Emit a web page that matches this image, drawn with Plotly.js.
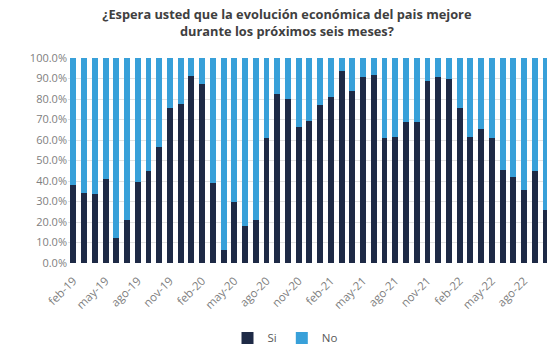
<!DOCTYPE html>
<html>
<head>
<meta charset="utf-8">
<script src="https://cdn.plot.ly/plotly-3.0.1.min.js"></script>
<style>html,body{margin:0;padding:0;background:#fff;overflow:hidden}#chart{width:547px;height:348px}</style>
</head>
<body>
<div id="chart"></div>
<script>
const months = ["feb-19","mar-19","abr-19","may-19","jun-19","jul-19","ago-19","sep-19","oct-19","nov-19","dic-19",
  "ene-20","feb-20","mar-20","abr-20","may-20","jun-20","jul-20","ago-20","sep-20","oct-20","nov-20","dic-20",
  "ene-21","feb-21","mar-21","abr-21","may-21","jun-21","jul-21","ago-21","sep-21","oct-21","nov-21","dic-21",
  "ene-22","feb-22","mar-22","abr-22","may-22","jun-22","jul-22","ago-22","sep-22","oct-22"];
const tickLabels = ["feb-19","may-19","ago-19","nov-19","feb-20","may-20","ago-20","nov-20","feb-21","may-21","ago-21","nov-21","feb-22","may-22","ago-22"];
const si = [38,34,33.5,41,12,21,39.5,45,56.5,75.5,77.5,
  91,87.5,39,6.5,30,18,21,61,82.5,80,66.5,69.5,
  77,81,93.5,84,90.5,91.5,61,61.5,69,69,89,90.5,
  90,75.5,61.5,65.5,61,45.5,42,35.5,45,26];
const no = [62,66,66.5,59,88,79,60.5,55,43.5,24.5,22.5,
  9,12.5,61,93.5,70,82,79,39,17.5,20,33.5,30.5,
  23,19,6.5,16,9.5,8.5,39,38.5,31,31,11,9.5,
  10,24.5,38.5,34.5,39,54.5,58,64.5,55,74];

const traces = [
  {type:"bar", name:"Si", x:months, y:si, marker:{color:"#1e2a46"}, hovertemplate:"%{x}: %{y:.1f}%<extra>Si</extra>"},
  {type:"bar", name:"No", x:months, y:no, marker:{color:"#38a0d9"}, hovertemplate:"%{x}: %{y:.1f}%<extra>No</extra>"}
];
const layout = {
  width:547, height:348,
  margin:{l:68, r:0, t:58, b:85},
  paper_bgcolor:"#fff", plot_bgcolor:"#fff",
  barmode:"stack", bargap:0.45,
  font:{family:"Open Sans, sans-serif", color:"#7f7f7f"},
  title:{text:"<b>¿Espera usted que la evolución económica del pais mejore<br>durante los próximos seis meses?</b>",
    x:0.457, xanchor:"center", xref:"paper", y:0.945, yref:"container", yanchor:"middle",
    font:{size:12.8, color:"#404040", family:"Open Sans, sans-serif"}},
  xaxis:{type:"category", categoryorder:"array", categoryarray:months, tickmode:"array", tickvals:tickLabels, ticktext:tickLabels,
    tickangle:-45, tickfont:{size:11.5, color:"#808080"}, showgrid:false, zeroline:false, showline:false, ticks:"",
    ticklabelstandoff:8, range:[-0.5, 44.14], automargin:false},
  yaxis:{range:[0,100], tickvals:[0,10,20,30,40,50,60,70,80,90,100],
    ticktext:["0.0%","10.0%","20.0%","30.0%","40.0%","50.0%","60.0%","70.0%","80.0%","90.0%","100.0%"],
    tickfont:{size:11, color:"#808080"}, showgrid:true, gridcolor:"#e3e3e3", gridwidth:1, zeroline:false, ticks:"", automargin:false},
  legend:{orientation:"h", x:0.333, xanchor:"left", xref:"paper", y:0.029, yref:"container", yanchor:"middle",
    font:{size:11.5, color:"#595959"}, traceorder:"normal", itemwidth:30},
  showlegend:true
};
Plotly.newPlot("chart", traces, layout, {displayModeBar:false, staticPlot:true});
</script>
</body>
</html>
